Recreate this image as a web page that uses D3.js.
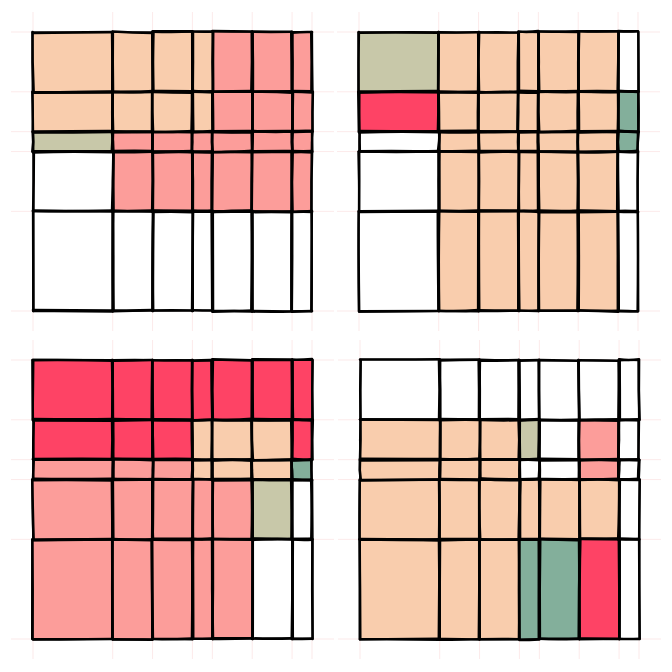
<!DOCTYPE html>
<html><head><meta charset="utf-8">
<script src="https://cdn.jsdelivr.net/npm/d3@7"></script>
<style>body{margin:0;background:#fff}svg{display:block}</style>
</head><body>
<svg id="c" width="672" height="672"></svg>
<script>
// Column categories and their weights (widths)
const columns = ["A","B","C","D","E","F","G"];
const columnWeights = [4,2,2,1,2,2,1];
// Row categories and their weights (heights)
const rows = ["R1","R2","R3","R4","R5"];
const rowWeights = [3,2,1,3,5];
// Value classes
const classes = ["none","peach","salmon","crimson","khaki","teal"];
const classColors = ["#ffffff","#F9CDAD","#FC9D9A","#FE4365","#C8C8A9","#83AF9B"];
// Panel values (rows top->bottom, columns left->right), as class names
const panel1 = [
  ["peach","peach","peach","peach","salmon","salmon","salmon"],
  ["peach","peach","peach","peach","salmon","salmon","salmon"],
  ["khaki","salmon","salmon","salmon","salmon","salmon","salmon"],
  ["none","salmon","salmon","salmon","salmon","salmon","salmon"],
  ["none","none","none","none","none","none","none"]
];
const panel2 = [
  ["khaki","peach","peach","peach","peach","peach","none"],
  ["crimson","peach","peach","peach","peach","peach","teal"],
  ["none","peach","peach","peach","peach","peach","teal"],
  ["none","peach","peach","peach","peach","peach","none"],
  ["none","peach","peach","peach","peach","peach","none"]
];
const panel3 = [
  ["crimson","crimson","crimson","crimson","crimson","crimson","crimson"],
  ["crimson","crimson","crimson","peach","peach","peach","crimson"],
  ["salmon","salmon","salmon","peach","peach","peach","teal"],
  ["salmon","salmon","salmon","salmon","salmon","khaki","none"],
  ["salmon","salmon","salmon","salmon","salmon","none","none"]
];
const panel4 = [
  ["none","none","none","none","none","none","none"],
  ["peach","peach","peach","khaki","none","salmon","none"],
  ["peach","peach","peach","none","none","salmon","none"],
  ["peach","peach","peach","peach","peach","peach","none"],
  ["peach","peach","peach","teal","teal","crimson","none"]
];
const panels = [panel1, panel2, panel3, panel4];

const svg = d3.select("#c");
const color = d3.scaleOrdinal().domain(classes).range(classColors);

const colCum = [0]; columnWeights.forEach((w,i)=>colCum.push(colCum[i]+w));
const rowCum = [0]; rowWeights.forEach((w,i)=>rowCum.push(rowCum[i]+w));

const origins = [[33,32],[359,32],[33,360],[360,360]];
const size = 279;

// deterministic small wobble for hand-drawn look
function wob(k){ return Math.sin(k*12.9898)*43758.5453 % 1; }
function sketchLine(g, x1,y1,x2,y2,k){
  for(let p=0;p<2;p++){
    const a = wob(k*7+p*3+1)*0.9, b = wob(k*7+p*3+2)*0.9, c = wob(k*7+p*3+3)*0.9;
    const mx=(x1+x2)/2 + (y1===y2?0:c), my=(y1+y2)/2 + (y1===y2?c:0);
    g.append("path")
      .attr("d", `M${x1+(x1===x2?a:0)},${y1+(y1===y2?a:0)} Q${mx},${my} ${x2+(x1===x2?b:0)},${y2+(y1===y2?b:0)}`)
      .attr("fill","none").attr("stroke","#000")
      .attr("stroke-width", p===0?2.6:1.6).attr("stroke-linecap","round");
  }
}

panels.forEach((data, pi)=>{
  const [ox, oy] = origins[pi];
  const x = d3.scaleLinear().domain([0, colCum[colCum.length-1]]).range([ox, ox+size]);
  const y = d3.scaleLinear().domain([0, rowCum[rowCum.length-1]]).range([oy, oy+size]);
  const g = svg.append("g");
  // faint guide lines
  const guide = g.append("g").attr("stroke","#f2a0a0").attr("stroke-opacity",0.22).attr("stroke-width",1);
  colCum.forEach(c=>{
    guide.append("line").attr("x1",x(c)).attr("x2",x(c)).attr("y1",oy-20).attr("y2",oy+size+20);
  });
  rowCum.forEach(r=>{
    guide.append("line").attr("y1",y(r)).attr("y2",y(r)).attr("x1",ox-22).attr("x2",ox+size+22);
  });
  // cells
  const cells = [];
  data.forEach((row, ri)=>row.forEach((v, ci)=>cells.push({ri, ci, v})));
  g.selectAll("rect.cell").data(cells).join("rect")
    .attr("class","cell")
    .attr("x", d=>x(colCum[d.ci])).attr("y", d=>y(rowCum[d.ri]))
    .attr("width", d=>x(colCum[d.ci+1])-x(colCum[d.ci]))
    .attr("height", d=>y(rowCum[d.ri+1])-y(rowCum[d.ri]))
    .attr("fill", d=>color(d.v));
  // cell borders (sketchy)
  const lg = g.append("g");
  cells.forEach((d,i)=>{
    const x0=x(colCum[d.ci]), x1=x(colCum[d.ci+1]), y0=y(rowCum[d.ri]), y1=y(rowCum[d.ri+1]);
    const k = pi*100+i*4;
    sketchLine(lg,x0,y0,x1,y0,k);
    sketchLine(lg,x1,y0,x1,y1,k+1);
    sketchLine(lg,x1,y1,x0,y1,k+2);
    sketchLine(lg,x0,y1,x0,y0,k+3);
  });
});
</script>
</body></html>
